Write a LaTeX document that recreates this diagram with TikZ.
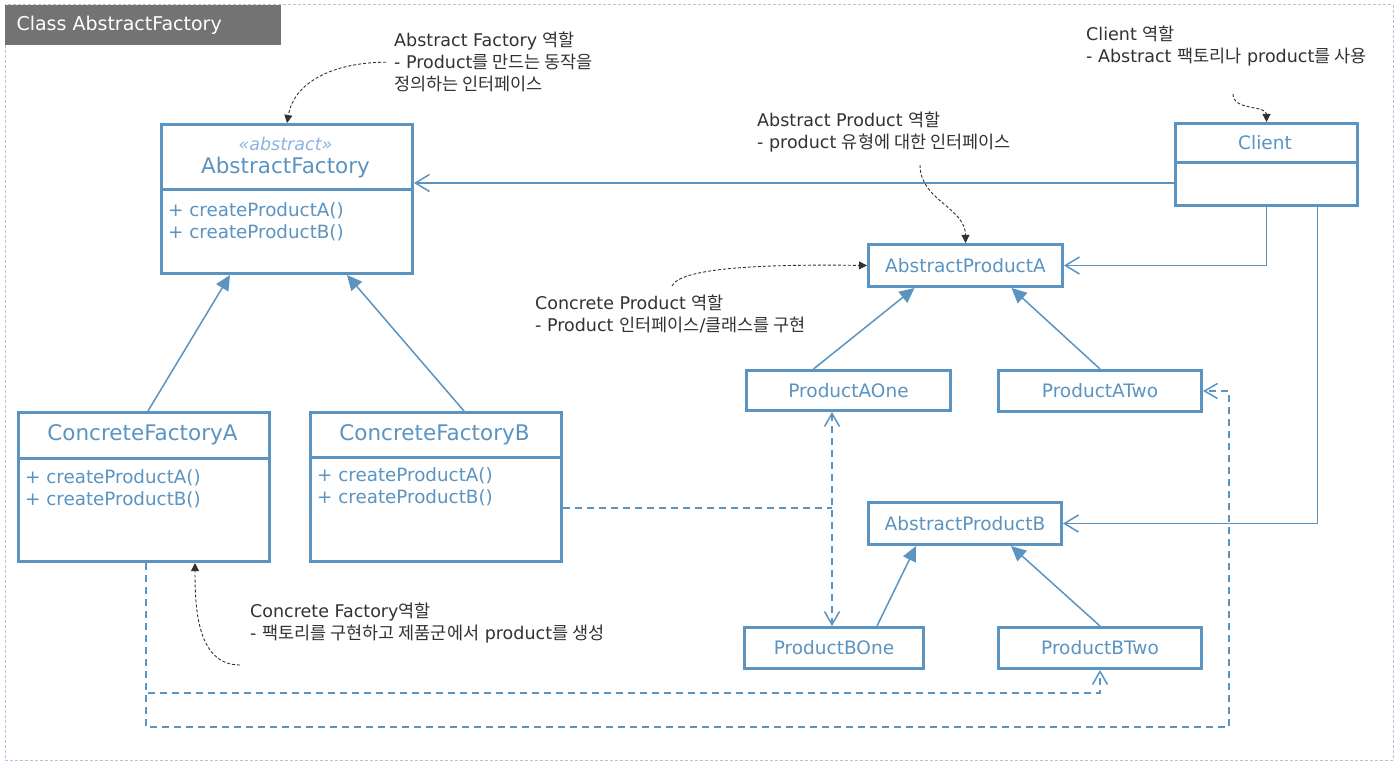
\documentclass[tikz,border=0pt]{standalone}
\usepackage{fontspec}
\setmainfont{DejaVu Sans}
\newfontfamily\kr{Noto Sans CJK KR}
\usetikzlibrary{arrows.meta,positioning}
\definecolor{umlblue}{RGB}{91,148,192}
\definecolor{stereo}{RGB}{140,180,225}
\definecolor{framec}{RGB}{170,195,230}
\definecolor{titlegray}{RGB}{115,115,115}
\definecolor{notegray}{RGB}{50,50,50}
\tikzset{
  cls/.style={draw=umlblue, line width=3pt, fill=white, anchor=north west, inner sep=0pt},
  clsname/.style={text=umlblue, font=\fontsize{21.5}{26}\selectfont},
  prodname/.style={text=umlblue, font=\fontsize{18.5}{22}\selectfont},
  method/.style={text=umlblue, anchor=west, inner sep=0pt, font=\fontsize{18.3}{22}\selectfont},
  divider/.style={draw=umlblue, line width=3pt},
  gen/.style={draw=umlblue, line width=1.5pt, -{Triangle[length=15pt,width=14pt]}},
  assoc/.style={draw=umlblue, line width=1.5pt, -{Straight Barb[length=14pt,width=17pt]}},
  dep/.style={draw=umlblue, line width=1.5pt, dash pattern=on 7pt off 5pt, -{Straight Barb[length=13pt,width=15pt]}},
  note/.style={draw=notegray, line width=0.9pt, dash pattern=on 3pt off 2pt, -{Triangle[length=8pt,width=8pt]}},
  notetext/.style={text=notegray, anchor=north west, align=left, inner sep=0pt, font=\fontsize{17.5}{22}\selectfont},
}
\begin{document}
\begin{tikzpicture}[x=1pt,y=-1pt]
\useasboundingbox (0,0) rectangle (1399,767);
\draw[framec, line width=1pt, dash pattern=on 3pt off 2pt] (5,5) rectangle (1393,760);
\fill[titlegray] (5,5) rectangle (281,45);
\node[anchor=west, text=white, font=\fontsize{19}{22}\selectfont] (title) at (13,25) {Class AbstractFactory};

% classes
\node[cls, minimum width=251pt, minimum height=149pt] (af) at (160,123) {};
\draw[divider] (af.west |- 0,190) -- (af.east |- 0,190);
\node[text=stereo, font=\fontsize{17.5}{20}\selectfont\itshape] (afst) at (285.5,144) {«abstract»};
\node[clsname] (afname) at (285.5,168) {AbstractFactory};
\node[method] (afm1) at (168,211) {+ createProductA()};
\node[method] (afm2) at (168,233) {+ createProductB()};

\node[cls, minimum width=251pt, minimum height=149pt] (cfa) at (17,411) {};
\draw[divider] (cfa.west |- 0,458) -- (cfa.east |- 0,458);
\node[clsname] (cfaname) at (142.5,435) {ConcreteFactoryA};
\node[method] (cfam1) at (25,478) {+ createProductA()};
\node[method] (cfam2) at (25,500) {+ createProductB()};

\node[cls, minimum width=251pt, minimum height=149pt] (cfb) at (309,411) {};
\draw[divider] (cfb.west |- 0,457) -- (cfb.east |- 0,457);
\node[clsname] (cfbname) at (434.5,435) {ConcreteFactoryB};
\node[method] (cfbm1) at (317,476) {+ createProductA()};
\node[method] (cfbm2) at (317,498) {+ createProductB()};

\node[cls, minimum width=182pt, minimum height=82pt] (cl) at (1174,122) {};
\draw[divider] (cl.west |- 0,163) -- (cl.east |- 0,163);
\node[prodname] (clname) at (1265,143) {Client};

\node[cls, prodname, minimum width=194pt, minimum height=42pt] (apa) at (867,243) {AbstractProductA};
\node[cls, prodname, minimum width=193pt, minimum height=42pt] (apb) at (867,501) {AbstractProductB};
\node[cls, prodname, minimum width=204pt, minimum height=40pt] (pa1) at (745,369) {ProductAOne};
\node[cls, prodname, minimum width=203pt, minimum height=41pt] (pa2) at (997,369) {ProductATwo};
\node[cls, prodname, minimum width=179pt, minimum height=41pt] (pb1) at (743,626) {ProductBOne};
\node[cls, prodname, minimum width=203pt, minimum height=41pt] (pb2) at (997,626) {ProductBTwo};

% inheritance
\draw[gen] ([xshift=4pt]cfa.north) -- ([xshift=-57pt]af.south);
\draw[gen] ([xshift=28pt]cfb.north) -- ([xshift=60pt]af.south);
\draw[gen] ([xshift=-35pt]pa1.north) -- ([xshift=-51pt]apa.south);
\draw[gen] (pa2.north) -- ([xshift=46pt]apa.south);
\draw[gen] ([xshift=43pt]pb1.north) -- ([xshift=-49pt]apb.south);
\draw[gen] (pb2.north) -- ([xshift=46pt]apb.south);

% client uses
\draw[assoc] (cl.west |- 0,183) -- (af.east |- 0,183);
\draw[assoc] (cl.south) |- (apa.east);
\draw[assoc] ([xshift=51pt]cl.south) |- (apb.east);

% creates
\coordinate (j) at (832,508);
\draw[dep, -] (cfb.east |- j) -- (j);
\draw[dep, {Straight Barb[length=13pt,width=15pt]}-{Straight Barb[length=13pt,width=15pt]}] (pa1.south -| j) -- (pb1.north -| j);
\draw[dep] (cfa.south -| 146,0) |- (pb2.south |- 0,693) -- (pb2.south);
\draw[dep] (cfa.south -| 146,0) |- (1229,727) |- (pa2.east);

% notes
\node[notetext] (n1) at (394,32) {Abstract Factory {\kr 역할}\\- Product{\kr 를 만드는 동작을}\\{\kr 정의하는 인터페이스}};
\node[notetext] (n2) at (1086,26) {Client {\kr 역할}\\- Abstract {\kr 팩토리나} product{\kr 를 사용}};
\node[notetext] (n3) at (757,112) {Abstract Product {\kr 역할}\\- product {\kr 유형에 대한 인터페이스}};
\node[notetext] (n4) at (535,295) {Concrete Product {\kr 역할}\\- Product {\kr 인터페이스}/{\kr 클래스를 구현}};
\node[notetext] (n5) at (250,603) {Concrete Factory{\kr 역할}\\- {\kr 팩토리를 구현하고 제품군에서} product{\kr 를 생성}};
\coordinate (n2tail) at (1233,94);
\coordinate (n3tail) at (920,165);
\coordinate (n4tail) at (672,286);
\coordinate (n5tail) at (240,665);
\draw[note] ([xshift=-8pt]n1.west) to[out=180,in=80] (af.north);
\draw[note] (n2tail) to[out=-90,in=90] (cl.north);
\draw[note] (n3tail) to[out=-90,in=90] (apa.north);
\draw[note] (n4tail) .. controls (680,268) and (760,264) .. (apa.west);
\draw[note] (n5tail) to[out=180,in=-90] (cfa.south -| 195,0);
\end{tikzpicture}
\end{document}
